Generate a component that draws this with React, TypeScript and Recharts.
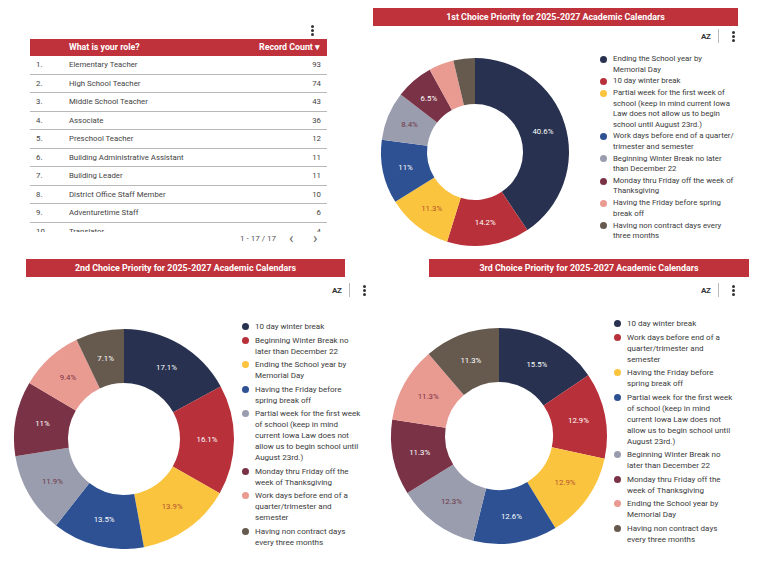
import React from 'react';
import { PieChart, Pie, Cell } from 'recharts';

// Role table
const roleNames = [
  'Elementary Teacher',
  'High School Teacher',
  'Middle School Teacher',
  'Associate',
  'Preschool Teacher',
  'Building Administrative Assistant',
  'Building Leader',
  'District Office Staff Member',
  'Adventuretime Staff',
  'Translator',
];
const roleCounts = [93, 74, 43, 36, 12, 11, 11, 10, 6, 4];

// 1st choice
const firstLabels = [
  'Ending the School year by Memorial Day',
  '10 day winter break',
  'Partial week for the first week of school (keep in mind current Iowa Law does not allow us to begin school until August 23rd.)',
  'Work days before end of a quarter/ trimester and semester',
  'Beginning Winter Break no later than December 22',
  'Monday thru Friday off the week of Thanksgiving',
  'Having the Friday before spring break off',
  'Having non contract days every three months',
];
const firstValues = [40.6, 14.2, 11.3, 11, 8.4, 6.5, 4.3, 3.7];

// 2nd choice
const secondLabels = [
  '10 day winter break',
  'Beginning Winter Break no later than December 22',
  'Ending the School year by Memorial Day',
  'Having the Friday before spring break off',
  'Partial week for the first week of school (keep in mind current Iowa Law does not allow us to begin school until August 23rd.)',
  'Monday thru Friday off the week of Thanksgiving',
  'Work days before end of a quarter/trimester and semester',
  'Having non contract days every three months',
];
const secondValues = [17.1, 16.1, 13.9, 13.5, 11.9, 11, 9.4, 7.1];

// 3rd choice
const thirdLabels = [
  '10 day winter break',
  'Work days before end of a quarter/trimester and semester',
  'Having the Friday before spring break off',
  'Partial week for the first week of school (keep in mind current Iowa Law does not allow us to begin school until August 23rd.)',
  'Beginning Winter Break no later than December 22',
  'Monday thru Friday off the week of Thanksgiving',
  'Ending the School year by Memorial Day',
  'Having non contract days every three months',
];
const thirdValues = [15.5, 12.9, 12.9, 12.6, 12.3, 11.3, 11.3, 11.3];

const colors = ['#283250', '#b8313a', '#fbc43e', '#2d5193', '#9a9dae', '#7a3346', '#e99a91', '#665a4f'];
const labelColors = ['#ffffff', '#ffffff', '#b4532f', '#ffffff', '#6f3747', '#ffffff', '#7a3346', '#ffffff'];

const RED = '#c0323b';
const FONT = 'Roboto, "Noto Sans", sans-serif';

function Kebab({ x, y }: { x: number; y: number }) {
  return (
    <div style={{ position: 'absolute', left: x, top: y, width: 3 }}>
      {[0, 1, 2].map((i) => (
        <div key={i} style={{ width: 2.5, height: 2.5, borderRadius: 2, background: '#333', marginBottom: 1.5 }} />
      ))}
    </div>
  );
}

function Tools({ x, y }: { x: number; y: number }) {
  return (
    <>
      <div style={{ position: 'absolute', left: x, top: y, fontSize: 8, fontWeight: 700, color: '#333', fontFamily: FONT, letterSpacing: -0.3 }}>
        AZ
      </div>
      <div style={{ position: 'absolute', left: x + 17, top: y - 3, width: 1, height: 14, background: '#bbb' }} />
      <Kebab x={x + 31} y={y - 1} />
    </>
  );
}

function Donut({
  labels, values, left, top, size, inner, outer, legendX, legendY, legendW, fontSize, lineH, gap,
}: {
  labels: string[]; values: number[]; left: number; top: number; size: number; inner: number; outer: number;
  legendX: number; legendY: number; legendW: number; fontSize: number; lineH: number; gap: number;
}) {
  const data = labels.map((name, i) => ({ name, value: values[i] }));
  const RAD = Math.PI / 180;
  const renderLabel = (p: any) => {
    if (p.value < 5) return null;
    const r = (p.innerRadius + p.outerRadius) / 2;
    const x = p.cx + r * Math.cos(-p.midAngle * RAD);
    const y = p.cy + r * Math.sin(-p.midAngle * RAD);
    return (
      <text x={x} y={y} fill={labelColors[p.index]} textAnchor="middle" dominantBaseline="central" fontSize={7.8} fontFamily={FONT}>
        {`${p.value}%`}
      </text>
    );
  };
  return (
    <>
      <div style={{ position: 'absolute', left, top }}>
        <PieChart width={size} height={size}>
          <Pie
            data={data}
            dataKey="value"
            cx={size / 2}
            cy={size / 2}
            innerRadius={inner}
            outerRadius={outer}
            startAngle={90}
            endAngle={-270}
            stroke="none"
            label={renderLabel}
            labelLine={false}
            isAnimationActive={false}
          >
            {data.map((d, i) => (
              <Cell key={i} fill={colors[i]} />
            ))}
          </Pie>
        </PieChart>
      </div>
      <div style={{ position: 'absolute', left: legendX, top: legendY, width: legendW, fontFamily: FONT, fontSize, lineHeight: `${lineH}px`, color: '#3a3a3a' }}>
        {labels.map((l, i) => (
          <div key={i} style={{ position: 'relative', paddingLeft: 13, marginBottom: gap }}>
            <span style={{ position: 'absolute', left: 0, top: (lineH - 7) / 2, width: 7, height: 7, borderRadius: 4, background: colors[i] }} />
            {l}
          </div>
        ))}
      </div>
    </>
  );
}

function TitleBar({ x, y, w, text }: { x: number; y: number; w: number; text: string }) {
  return (
    <div style={{ position: 'absolute', left: x, top: y, width: w, height: 18, background: RED, color: '#fff', fontFamily: FONT, fontWeight: 700, fontSize: 8.9, lineHeight: '18px', textAlign: 'center' }}>
      {text}
    </div>
  );
}

export default function App() {
  return (
    <div style={{ position: 'absolute', left: 0, top: 0, width: 768, height: 576, background: '#fff', overflow: 'hidden', fontFamily: FONT }}>
      {/* Role table */}
      <Kebab x={311} y={25} />
      <div style={{ position: 'absolute', left: 30, top: 39, width: 297, height: 193, overflow: 'hidden' }}>
        <div style={{ height: 17, background: RED, color: '#fff', fontWeight: 700, fontSize: 8.8, lineHeight: '17px', position: 'relative' }}>
          <span style={{ position: 'absolute', left: 39 }}>What is your role?</span>
          <span style={{ position: 'absolute', right: 7 }}>Record Count &#9662;</span>
        </div>
        {roleNames.map((n, i) => (
          <div key={i} style={{ height: 18.5, boxSizing: 'border-box', borderBottom: '1px solid #b8b8b8', fontSize: 7.8, lineHeight: '18px', color: '#444', position: 'relative' }}>
            <span style={{ position: 'absolute', left: 6 }}>{i + 1}.</span>
            <span style={{ position: 'absolute', left: 39 }}>{n}</span>
            <span style={{ position: 'absolute', right: 6 }}>{roleCounts[i]}</span>
          </div>
        ))}
      </div>
      <div style={{ position: 'absolute', left: 240, top: 234, fontSize: 8, color: '#555' }}>1 - 17 / 17</div>
      <div style={{ position: 'absolute', left: 289, top: 229, fontSize: 15, color: '#666' }}>&lsaquo;</div>
      <div style={{ position: 'absolute', left: 313, top: 229, fontSize: 15, color: '#666' }}>&rsaquo;</div>

      {/* 1st choice */}
      <TitleBar x={373} y={8} w={365} text="1st Choice Priority for 2025-2027 Academic Calendars" />
      <Tools x={701} y={32} />
      <Donut
        labels={firstLabels}
        values={firstValues}
        left={370}
        top={47}
        size={200}
        inner={48}
        outer={94}
        legendX={600}
        legendY={54}
        legendW={136}
        fontSize={7.8}
        lineH={10.5}
        gap={1.3}
      />

      {/* 2nd choice */}
      <TitleBar x={26} y={259} w={319} text="2nd Choice Priority for 2025-2027 Academic Calendars" />
      <Tools x={332} y={286} />
      <Donut
        labels={secondLabels}
        values={secondValues}
        left={4}
        top={319}
        size={230}
        inner={56}
        outer={110}
        legendX={242}
        legendY={321}
        legendW={122}
        fontSize={8}
        lineH={11}
        gap={2.5}
      />

      {/* 3rd choice */}
      <TitleBar x={429} y={259} w={320} text="3rd Choice Priority for 2025-2027 Academic Calendars" />
      <Tools x={701} y={286} />
      <Donut
        labels={thirdLabels}
        values={thirdValues}
        left={379}
        top={316}
        size={230}
        inner={54}
        outer={108}
        legendX={614}
        legendY={318}
        legendW={122}
        fontSize={8}
        lineH={11}
        gap={2.5}
      />
    </div>
  );
}
